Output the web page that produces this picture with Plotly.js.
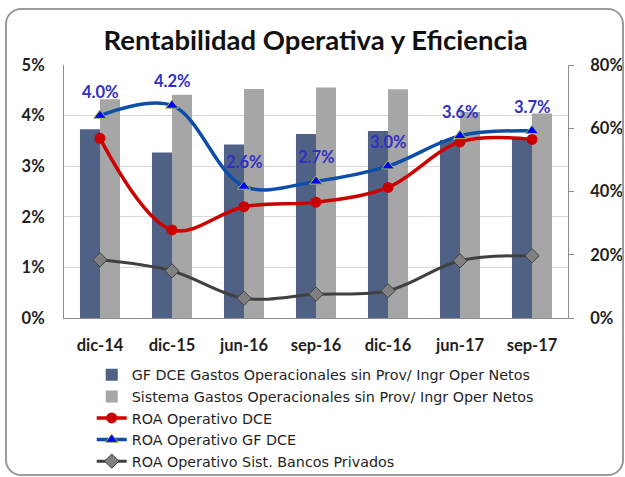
<!DOCTYPE html>
<html>
<head>
<meta charset="utf-8">
<script src="https://cdn.plot.ly/plotly-3.0.1.min.js"></script>
<style>
  html, body { margin: 0; padding: 0; background: #ffffff; overflow: hidden; }
  #wrap { position: relative; width: 625px; height: 477px; }
  #chart { position: absolute; left: 0; top: 0; width: 625px; height: 477px; }
  #frame { position: absolute; left: 5px; top: 8px; width: 615px; height: 464px;
           border: 2px solid #9a9a9a; border-radius: 16px; pointer-events: none; }
</style>
</head>
<body>
<div id="wrap">
  <div id="chart"></div>
  <div id="frame"></div>
</div>
<script>
const categories = ['dic-14', 'dic-15', 'jun-16', 'sep-16', 'dic-16', 'jun-17', 'sep-17'];
const gfEfficiency = [0.597, 0.523, 0.549, 0.582, 0.591, 0.563, 0.569];
const sysEfficiency = [0.692, 0.706, 0.724, 0.729, 0.723, 0.651, 0.647];
const roaDCE = [0.0355, 0.0174, 0.0220, 0.0229, 0.0258, 0.0348, 0.0353];
const roaGF = [0.040, 0.042, 0.026, 0.027, 0.030, 0.036, 0.037];
const roaSys = [0.0115, 0.0093, 0.0039, 0.0047, 0.0054, 0.0113, 0.0123];
const leftTicks = [0, 0.01, 0.02, 0.03, 0.04, 0.05];
const rightTicks = [0, 0.2, 0.4, 0.6, 0.8];

const FONT = 'Lato, "Open Sans", "Liberation Sans", sans-serif';
const LEGFONT = '"DejaVu Sans", "Open Sans", Lato, sans-serif';
const TXT = '#1f1f1f';

const traces = [
  { type: 'bar', name: 'GF DCE Gastos Operacionales sin Prov/ Ingr Oper Netos',
    x: categories, y: gfEfficiency, yaxis: 'y', marker: { color: '#4f6286' } },
  { type: 'bar', name: 'Sistema Gastos Operacionales sin Prov/ Ingr Oper Netos',
    x: categories, y: sysEfficiency, yaxis: 'y', marker: { color: '#a6a6a6' } },
  { type: 'scatter', mode: 'lines+markers', name: 'ROA Operativo DCE',
    x: categories, y: roaDCE, yaxis: 'y2',
    line: { color: '#cc0000', width: 3.5, shape: 'spline' },
    marker: { symbol: 'circle', size: 11, color: '#cc0000' } },
  { type: 'scatter', mode: 'lines+markers', name: 'ROA Operativo GF DCE',
    x: categories, y: roaGF, yaxis: 'y2',
    line: { color: '#0d4ea8', width: 3.5, shape: 'spline' },
    marker: { symbol: 'triangle-up', size: 11, color: '#0000ff', line: { color: '#9bbb59', width: 1 } } },
  { type: 'scatter', mode: 'lines+markers', name: 'ROA Operativo Sist. Bancos Privados',
    x: categories, y: roaSys, yaxis: 'y2',
    line: { color: '#404040', width: 3, shape: 'spline' },
    marker: { symbol: 'diamond', size: 11, color: '#808080', line: { color: '#404040', width: 1 } } }
];

const annotations = categories.map((c, i) => ({
  x: c, y: roaGF[i], xref: 'x', yref: 'y2',
  text: (roaGF[i] * 100).toFixed(1) + '%',
  showarrow: false, yshift: 24,
  font: { family: FONT, size: 16.5, color: '#3030c4', weight: 'bold' }
}));

const layout = {
  width: 625, height: 477,
  margin: { l: 64, r: 57, t: 65, b: 159 },
  paper_bgcolor: 'rgba(0,0,0,0)', plot_bgcolor: '#ffffff',
  title: { text: 'Rentabilidad Operativa y Eficiencia', x: 0.505, xanchor: 'center',
           y: 0.916, yanchor: 'middle', yref: 'container',
           font: { family: FONT, size: 27.5, color: '#111111', weight: 'bold' } },
  barmode: 'group', bargap: 0.444, bargroupgap: 0,
  showlegend: true,
  legend: { x: 0.055, y: 0, xanchor: 'left', yanchor: 'bottom', yref: 'container', orientation: 'v',
            font: { family: LEGFONT, size: 14.3, color: TXT }, bgcolor: 'rgba(0,0,0,0)', tracegroupgap: 0 },
  xaxis: { type: 'category', showline: true, linecolor: '#8c8c8c', linewidth: 1,
           ticks: '', ticklabelstandoff: 12, showgrid: false,
           tickfont: { family: FONT, size: 16.5, color: TXT, weight: 'bold' } },
  yaxis: { side: 'right', range: [0, 0.8], tickvals: rightTicks, tickformat: '.0%',
           showgrid: false, zeroline: false, showline: true, linecolor: '#8c8c8c', linewidth: 1,
           ticks: 'outside', ticklen: 5, tickcolor: '#8c8c8c', ticklabelstandoff: 13,
           tickfont: { family: FONT, size: 16.5, color: TXT, weight: 'bold' } },
  yaxis2: { side: 'left', overlaying: 'y', range: [0, 0.05], tickvals: leftTicks, tickformat: '.0%',
            showgrid: true, gridcolor: '#d9d9d9', gridwidth: 1, zeroline: false,
            showline: true, linecolor: '#8c8c8c', linewidth: 1, ticks: '', ticklabelstandoff: 15,
            tickfont: { family: FONT, size: 16.5, color: TXT, weight: 'bold' } },
  annotations: annotations
};

Plotly.newPlot('chart', traces, layout, { displayModeBar: false, staticPlot: true });
</script>
</body>
</html>
